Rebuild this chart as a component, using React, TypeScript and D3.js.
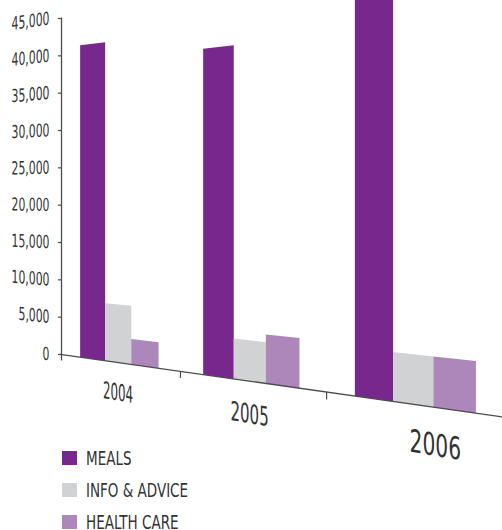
import React from 'react';
import * as d3 from 'd3';

// ---- data ----
const categories = ['2004', '2005', '2006'];
const seriesNames = ['MEALS', 'INFO & ADVICE', 'HEALTH CARE'];
const meals = [41100, 38900, 46000];
const infoAdvice = [7400, 4700, 5150];
const healthCare = [3200, 5580, 5150];
const yTicks = [0, 5000, 10000, 15000, 20000, 25000, 30000, 35000, 40000, 45000];
const seriesColors = ['#78288c', '#d1d2d4', '#ad86ba'];

// ---- perspective setup ----
const W = 502, H = 530;
const X0 = 61.5, Y0 = 354.5, Q = 0.093, P = 107.9, S = 0.1416;
const A1 = P - X0 * Q;
const B1 = S * P - Y0 * Q;
const wOf = (u: number) => 1 - Q * u;
function project(u: number, h: number): [number, number] {
  const w = wOf(u);
  return [(A1 * u + X0) / w, (B1 * u + Y0 - h) / w];
}
const FONT = '"Liberation Sans Narrow", "DejaVu Sans Condensed", "Liberation Sans", sans-serif';
const TEXT = '#333333';
const AXIS = '#4d4d4d';

export default function App() {
  const seriesValues = [meals, infoAdvice, healthCare];
  const uBand = d3.scaleBand<string>().domain(categories).range([0, 3]).paddingInner(0.34).paddingOuter(0.17);
  const sBand = d3.scaleBand<string>().domain(seriesNames).range([0, uBand.bandwidth()]);
  const hScale = d3.scaleLinear().domain([0, 45000]).range([0, 336]);
  const line = d3.line<[number, number]>();
  const fmt = d3.format(',');

  const bars: React.ReactNode[] = [];
  categories.forEach((c, ci) => {
    seriesNames.forEach((s, si) => {
      const u0 = (uBand(c) as number) + (sBand(s) as number);
      const u1 = u0 + sBand.bandwidth();
      const h = hScale(seriesValues[si][ci]);
      const pts: [number, number][] = [project(u0, 0), project(u1, 0), project(u1, h), project(u0, h)];
      bars.push(<path key={c + s} d={line(pts.concat([pts[0]])) as string} fill={seriesColors[si]} />);
    });
  });

  const [bx0, by0] = project(-0.012, 0);
  const [bx1, by1] = project(3.05, 0);

  return (
    <svg width={W} height={H} style={{ position: 'absolute', left: 0, top: 0, background: '#fff' }}>
      {bars}
      {/* y axis */}
      <line x1={X0} x2={X0} y1={Y0 - hScale(45000) - 1} y2={Y0 + 6} stroke={AXIS} strokeWidth={1.3} />
      {yTicks.map((t) => {
        const y = Y0 - hScale(t);
        const slope = (B1 + Q * (Y0 - hScale(t))) / P;
        const ang = (Math.atan(slope) * 180) / Math.PI;
        return (
          <g key={t}>
            <line x1={X0 - 3.5} x2={X0} y1={y} y2={y} stroke={AXIS} strokeWidth={1.2} />
            <g transform={`translate(${X0 - 12},${y}) skewY(${ang}) scale(0.67,1)`}>
              <text x={0} y={0} textAnchor="end" dominantBaseline="central" fontFamily={FONT} fontSize={18} fill={TEXT}>
                {fmt(t)}
              </text>
            </g>
          </g>
        );
      })}
      {/* baseline */}
      <line x1={bx0} y1={by0} x2={bx1} y2={by1} stroke={AXIS} strokeWidth={1.3} />
      {[1, 2].map((u) => {
        const [x, y] = project(u, 0);
        return <line key={u} x1={x} x2={x} y1={y} y2={y + 6 / wOf(u)} stroke={AXIS} strokeWidth={1.2} />;
      })}
      {/* category labels */}
      {categories.map((c, ci) => {
        const uc = (uBand(c) as number) + uBand.bandwidth() / 2 + (ci === 2 ? 0.12 : 0);
        const w = wOf(uc);
        const sy = Math.pow(1 / w, 1.3);
        const sx = Math.pow(1 / w, 2.3);
        const [x, y] = project(uc, -28);
        const fs = 21.9 * sy;
        const cx = 0.54 * (sx / sy);
        return (
          <g key={c} transform={`translate(${x},${y}) skewY(9.5) scale(${cx},1)`}>
            <text x={0} y={0} textAnchor="middle" dominantBaseline="central" fontFamily={FONT} fontSize={fs} fill={TEXT}>
              {c}
            </text>
          </g>
        );
      })}
      {/* legend */}
      {seriesNames.map((s, si) => {
        const y = 451 + si * 32;
        return (
          <g key={s}>
            <rect x={62} y={y} width={15} height={14} fill={seriesColors[si]} />
            <g transform={`translate(86,${y + 7.5}) scale(0.79,1)`}>
              <text x={0} y={0} dominantBaseline="central" fontFamily={FONT} fontSize={19} fill={TEXT}>
                {s}
              </text>
            </g>
          </g>
        );
      })}
    </svg>
  );
}
